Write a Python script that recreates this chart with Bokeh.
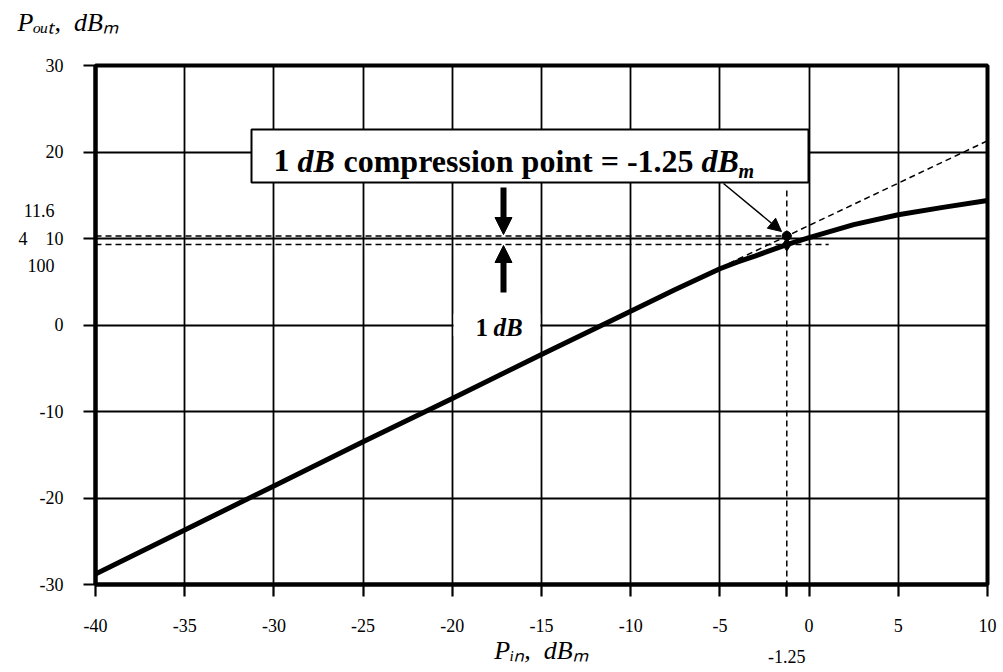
from bokeh.plotting import figure
from bokeh.models import Range1d, FixedTicker, Label, Arrow, NormalHead, BoxAnnotation, Title
from bokeh.embed import file_html
from bokeh.resources import INLINE

# ---------------- data ----------------
pin = [-40, -35, -30, -25, -20, -15, -10, -7.5, -5, -4, -3, -2, -1.25, 0, 2.5, 5, 7.5, 10]
pout = [-28.8, -23.7, -18.6, -13.5, -8.5, -3.4, 1.6, 4.1, 6.5, 7.3, 8.0, 8.75, 9.3, 10.1, 11.6, 12.75, 13.6, 14.4]
linear_x = [-4.5, 10]
linear_y = [7.1, 21.3]
p1db_in = -1.25
p1db_linear = 10.3
p1db_actual = 9.3
upper_dash_x = [-40, -0.9]
lower_dash_x = [-40, 1.1]
x_ticks = [-40, -35, -30, -25, -20, -15, -10, -5, 0, 5, 10]
y_ticks = [-30, -20, -10, 0, 10, 20, 30]
NB = "\u00a0"
y_tick_labels = {t: str(t) for t in y_ticks}
y_tick_labels[10] = "11.6" + NB * 2 + "\n4" + NB * 4 + "10\n100" + NB * 2
x_tick_labels = {t: str(t) for t in x_ticks}
x_tick_labels[p1db_in] = NB + "\n" + str(p1db_in)
x_title = "P\u1d62\u2099," + NB * 2 + "dB\u2098"
y_title = "P\u2092\u1d64\u209c," + NB * 2 + "dB\u2098"

FONT = "Liberation Serif"

# frame in picture pixels: x 95..987, y 65..584
FL, FR, FT, FB = 95, 987, 65, 584
def X(px):
    return -40 + (px - FL) * 50.0 / (FR - FL)
def Y(py):
    return 30 - (py - FT) * 60.0 / (FB - FT)

p = figure(frame_width=FR - FL, frame_height=FB - FT,
           min_border_left=FL, min_border_right=14, min_border_top=FT, min_border_bottom=86,
           x_range=Range1d(-40, 10), y_range=Range1d(-30, 30),
           output_backend="svg", toolbar_location=None)

p.outline_line_color = "black"
p.outline_line_width = 4
p.background_fill_color = "white"
p.border_fill_color = "white"

for ax in (p.xaxis[0], p.yaxis[0]):
    ax.axis_line_width = 4
    ax.axis_line_color = "black"
    ax.major_tick_line_width = 2.2
    ax.major_tick_line_color = "black"
    ax.major_tick_out = 12
    ax.major_tick_in = 0
    ax.minor_tick_line_color = None
    ax.major_label_text_font = FONT
    ax.major_label_text_font_size = "18px"
    ax.major_label_text_color = "black"

# y axis
p.yaxis[0].ticker = FixedTicker(ticks=y_ticks)
p.yaxis[0].major_label_overrides = y_tick_labels
p.yaxis[0].major_label_standoff = 20
try:
    p.yaxis[0].major_label_text_line_height = 1.38
except Exception:
    pass

# x axis; the -1.25 marker gets its own tick and a dashed minor tick below the axis
xa = p.xaxis[0]
xa.ticker = FixedTicker(ticks=x_ticks + [p1db_in], minor_ticks=[p1db_in])
xa.major_label_overrides = x_tick_labels
xa.minor_tick_line_color = "black"
xa.minor_tick_line_width = 1.5
xa.minor_tick_line_dash = "0 19 12 100"
xa.minor_tick_out = 31
xa.minor_tick_in = 0
xa.major_label_standoff = 0
try:
    xa.major_label_text_line_height = 1.55
except Exception:
    pass
xa.axis_label = x_title
xa.axis_label_text_font = FONT
xa.axis_label_text_font_style = "italic"
xa.axis_label_text_font_size = "26px"
xa.axis_label_text_color = "black"
xa.axis_label_standoff = -34

top_title = Title(text=y_title + "\n" + NB, align="left", offset=-78, standoff=0,
                  text_font=FONT, text_font_style="italic", text_font_size="26px",
                  text_color="black")
try:
    top_title.text_line_height = 1.0
except Exception:
    pass
p.add_layout(top_title, "above")

p.xgrid.ticker = FixedTicker(ticks=x_ticks)
p.ygrid.ticker = FixedTicker(ticks=y_ticks)
for g in (p.xgrid[0], p.ygrid[0]):
    g.grid_line_color = "black"
    g.grid_line_width = 1.8
    g.grid_line_alpha = 1.0

# white gap behind "1 dB" on the 0 gridline
p.quad(left=[-19.93], right=[-15.07], bottom=[-1.3], top=[1.3],
       fill_color="white", line_color=None)

# dashed helper lines
p.line(upper_dash_x, [p1db_linear, p1db_linear], line_color="black", line_width=1.5, line_dash="6 4")
p.line(lower_dash_x, [p1db_actual, p1db_actual], line_color="black", line_width=1.5, line_dash="6 4")
p.line(linear_x, linear_y, line_color="black", line_width=1.5, line_dash="6 4")
p.line([p1db_in, p1db_in], [Y(190), -30], line_color="black", line_width=1.5, line_dash="6 4")

# main curve
p.line(pin, pout, line_color="black", line_width=5)

# points
p.scatter([p1db_in], [p1db_linear], marker="circle", size=9, color="black")
p.scatter([p1db_in], [p1db_actual], marker="diamond", size=13, color="black")

# 1 dB arrows
p.add_layout(Arrow(end=NormalHead(size=17, fill_color="black", line_color="black"),
                   x_start=X(503), y_start=Y(187), x_end=X(503), y_end=Y(234),
                   line_color="black", line_width=6))
p.add_layout(Arrow(end=NormalHead(size=17, fill_color="black", line_color="black"),
                   x_start=X(503), y_start=Y(292), x_end=X(503), y_end=Y(245),
                   line_color="black", line_width=6))

# callout box
p.add_layout(BoxAnnotation(left=X(251), right=X(808), top=Y(129), bottom=Y(182),
                           fill_color="white", fill_alpha=1.0,
                           line_color="black", line_width=2, line_alpha=1.0))
# callout arrow
p.add_layout(Arrow(end=NormalHead(size=13, fill_color="black", line_color="black"),
                   x_start=X(723), y_start=Y(183), x_end=X(781), y_end=Y(231),
                   line_color="black", line_width=1.5))

BASE_SHIFT = 0.31  # empirical correction of the alphabetic anchor


def txt(text, px, py, size, style="normal", align="left"):
    p.add_layout(Label(x=X(px), y=Y(py - BASE_SHIFT * size), text=text, text_font=FONT,
                       text_font_size=f"{size}px", text_font_style=style,
                       text_color="black", text_align=align, text_baseline="alphabetic"))


# callout text: "1 dB compression point = -1.25 dB_m"
txt("1", 273, 170, 32, "bold")
txt("dB", 297, 170, 32, "bold italic")
txt("compression point = -1.25", 343, 170, 32, "bold")
txt("dB", 701, 170, 32, "bold italic")
txt("m", 738, 177, 20, "bold italic")

# "1 dB" label
txt("1", 475, 335, 25, "bold")
txt("dB", 493, 335, 25, "bold italic")

open("out.html", "w").write(file_html(p, INLINE))
